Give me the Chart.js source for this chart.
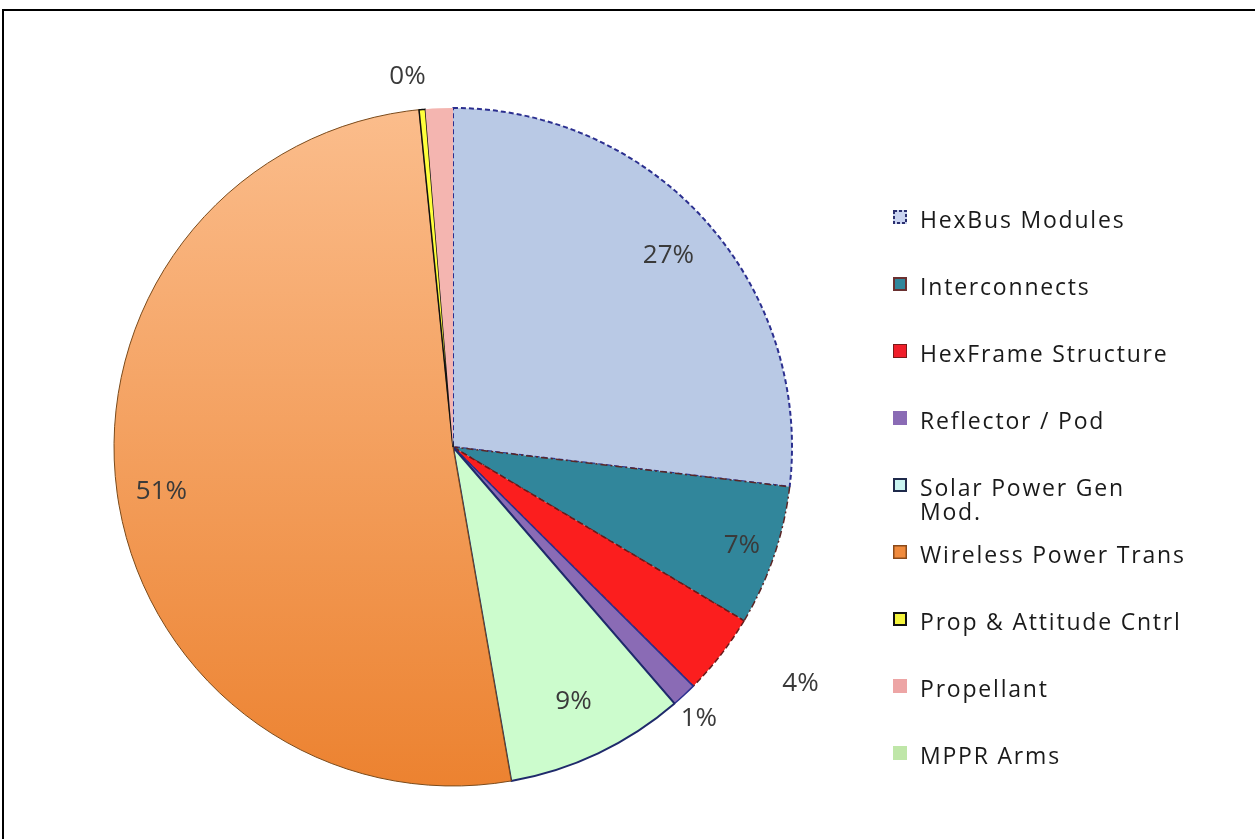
<!DOCTYPE html>
<html>
<head>
<meta charset="utf-8">
<script src="https://cdn.jsdelivr.net/npm/chart.js@4/dist/chart.umd.min.js"></script>
<style>
  html, body { margin:0; padding:0; background:#ffffff; width:1255px; height:839px; overflow:hidden; }
  #frame { position:absolute; left:2px; top:9px; width:1400px; height:1000px; border-left:2px solid #000; border-top:2px solid #000; }
  #c { position:absolute; left:0; top:0; }
</style>
</head>
<body>
<div id="frame"></div>
<canvas id="c" width="1255" height="839"></canvas>
<script>
// ---- data ----
const categories = ['HexBus Modules', 'Interconnects', 'HexFrame Structure', 'Reflector / Pod',
  'Solar Power Gen Mod.', 'Wireless Power Trans', 'Prop & Attitude Cntrl', 'Propellant', 'MPPR Arms'];
const massShare = [26.9, 6.7, 3.9, 1.2, 8.6, 51.2, 0.3, 1.3, 0];
const showPercent = [true, true, true, true, true, true, true, false, false];

// ---- styles ----
const sliceFill = ['#b9c9e5', '#31869b', '#fb1e1e', '#8a6bb5', '#ccfccd', null, '#ffff3c', '#f4b5b0', '#c4e6a8'];
const sliceBorder = ['#2b2f8f', '#5a2626', '#6a1a1a', '#2b2f8f', '#1f2a6b', '#7a4a1a', '#111111', '#f4b5b0', '#c4e6a8'];
const sliceBorderWidth = [2, 1.5, 1.5, 1.5, 2, 1, 1.5, 0, 0];
const sliceDash = [[5, 3], [7, 3, 2, 3], [6, 3], [], [], [], [], [], []];
const labelRadius = [0.85, 0.90, 1.24, 1.08, 0.83, 0.87, 1.10, 1, 1];
const labelShiftDeg = [0, 0, -3.6, 0.8, 0, -0.9, -1.8, 0, 0];
const legendMarkers = [
  { fill: '#c9d3f0', stroke: '#2b2f6f', width: 2, dash: [3, 2] },
  { fill: '#31869b', stroke: '#6a3030', width: 2, dash: [] },
  { fill: '#f01e2a', stroke: '#7a1a1a', width: 1, dash: [] },
  { fill: '#8a6bb5', stroke: null },
  { fill: '#c8f3f0', stroke: '#1f2a4b', width: 2, dash: [] },
  { fill: '#f08a3c', stroke: '#8a4a1a', width: 1.5, dash: [] },
  { fill: '#f4f43c', stroke: '#111111', width: 2, dash: [] },
  { fill: '#eda5a5', stroke: null },
  { fill: '#bfe6a8', stroke: null }
];

function wrapText(ctx, text, maxWidth) {
  const words = text.split(' ');
  const lines = [];
  let cur = '';
  words.forEach(w => {
    const test = cur ? cur + ' ' + w : w;
    if (ctx.measureText(test).width > maxWidth && cur) { lines.push(cur); cur = w; }
    else cur = test;
  });
  if (cur) lines.push(cur);
  return lines;
}

const sideLegend = {
  id: 'sideLegend',
  afterDraw(chart, args, o) {
    const ctx = chart.ctx;
    ctx.save();
    ctx.font = o.font;
    if ('letterSpacing' in ctx) ctx.letterSpacing = o.letterSpacing;
    categories.forEach((cat, i) => {
      const y = o.top + i * o.rowGap;
      const m = legendMarkers[i];
      ctx.setLineDash([]);
      ctx.fillStyle = m.fill;
      ctx.fillRect(o.x, y - o.box / 2, o.box, o.box);
      if (m.stroke) {
        ctx.strokeStyle = m.stroke;
        ctx.lineWidth = m.width;
        ctx.setLineDash(m.dash || []);
        ctx.strokeRect(o.x + m.width / 2, y - o.box / 2 + m.width / 2, o.box - m.width, o.box - m.width);
      }
      ctx.setLineDash([]);
      ctx.fillStyle = o.color;
      ctx.textBaseline = 'middle';
      ctx.textAlign = 'left';
      const lines = wrapText(ctx, cat, o.maxWidth);
      lines.forEach((ln, k) => ctx.fillText(ln, o.textX, y + o.textDy + k * o.lineHeight));
    });
    ctx.restore();
  }
};

const pctLabels = {
  id: 'pctLabels',
  afterDatasetsDraw(chart, args, o) {
    const ctx = chart.ctx;
    const meta = chart.getDatasetMeta(0);
    const total = massShare.reduce((a, b) => a + b, 0);
    ctx.save();
    ctx.font = o.font;
    ctx.fillStyle = o.color;
    ctx.textAlign = 'center';
    ctx.textBaseline = 'middle';
    meta.data.forEach((arc, i) => {
      if (!showPercent[i]) return;
      const p = arc.getProps(['x', 'y', 'startAngle', 'endAngle', 'outerRadius'], true);
      const mid = (p.startAngle + p.endAngle) / 2 + labelShiftDeg[i] * Math.PI / 180;
      const r = p.outerRadius * labelRadius[i];
      const txt = Math.round(massShare[i] / total * 100) + '%';
      ctx.fillText(txt, p.x + r * Math.cos(mid), p.y + r * Math.sin(mid));
    });
    ctx.restore();
  }
};

function sliceColor(context) {
  const i = context.dataIndex;
  if (sliceFill[i]) return sliceFill[i];
  const chart = context.chart;
  const area = chart.chartArea;
  if (!area) return '#f09a50';
  const g = chart.ctx.createLinearGradient(0, area.top, 0, area.bottom);
  g.addColorStop(0, '#fbbd8c');
  g.addColorStop(1, '#ec8230');
  return g;
}

new Chart(document.getElementById('c'), {
  type: 'pie',
  data: {
    labels: categories,
    datasets: [{
      data: massShare,
      backgroundColor: sliceColor,
      borderColor: sliceBorder,
      borderWidth: sliceBorderWidth,
      borderDash: (ctx) => sliceDash[ctx.dataIndex] || [],
      borderAlign: 'center'
    }]
  },
  options: {
    responsive: false,
    animation: false,
    devicePixelRatio: 1,
    layout: { padding: { left: 113, right: 462, top: 107, bottom: 52 } },
    plugins: {
      legend: { display: false },
      tooltip: { enabled: false },
      sideLegend: { x: 893, box: 14, top: 217, rowGap: 67, textX: 920, textDy: 4, lineHeight: 24,
        maxWidth: 268, font: '23px "Open Sans"', letterSpacing: '1.8px', color: '#1a1a1a' },
      pctLabels: { font: '26px "Open Sans"', color: '#3a3a3a' }
    }
  },
  plugins: [pctLabels, sideLegend]
});
</script>
</body>
</html>
